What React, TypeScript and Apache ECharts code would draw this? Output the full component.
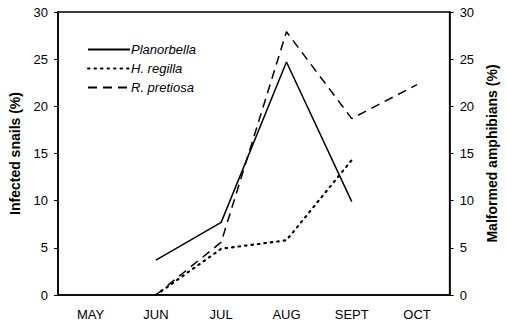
import React, { useEffect, useRef } from "react";
import * as echarts from "echarts";

const months = ["MAY", "JUN", "JUL", "AUG", "SEPT", "OCT"];
const planorbella = [null, 3.7, 7.7, 24.7, 9.9, null];
const hRegilla = [null, 0, 4.9, 5.8, 14.3, null];
const rPretiosa = [null, 0, 5.6, 27.9, 18.7, 22.3];

const FONT = "Liberation Sans, Arial, sans-serif";

export default function App() {
  const ref = useRef<HTMLDivElement>(null);
  useEffect(() => {
    const chart = echarts.init(ref.current!, null, { renderer: "svg" });
    const axisLabel = { color: "#000", fontSize: 13, fontFamily: FONT };
    chart.setOption({
      animation: false,
      backgroundColor: "#fff",
      grid: {
        left: 54,
        right: 45,
        top: 12,
        bottom: 31,
        show: true,
        borderColor: "#000",
        borderWidth: 1.5,
        backgroundColor: "transparent",
      },
      legend: {
        orient: "vertical",
        left: 87,
        top: 43,
        padding: 0,
        itemWidth: 42,
        itemHeight: 10,
        itemGap: 6,
        itemStyle: { opacity: 0 },
        textStyle: {
          color: "#000",
          fontSize: 13,
          fontStyle: "italic",
          fontFamily: FONT,
          padding: [0, 0, 0, -4],
        },
        data: ["Planorbella", "H. regilla", "R. pretiosa"],
      },
      xAxis: {
        type: "category",
        data: months,
        boundaryGap: true,
        axisLine: { lineStyle: { color: "#000", width: 1.5 } },
        axisTick: { inside: true, length: 4, lineStyle: { color: "#000", width: 1 } },
        axisLabel: { ...axisLabel, margin: 13 },
        splitLine: { show: false },
      },
      yAxis: [
        {
          type: "value",
          min: 0,
          max: 30,
          interval: 5,
          position: "left",
          name: "Infected snails (%)",
          nameLocation: "middle",
          nameGap: 36,
          nameTextStyle: { color: "#000", fontSize: 14, fontWeight: "bold", fontFamily: FONT },
          axisLine: { show: true, lineStyle: { color: "#000", width: 1.5 } },
          axisTick: { show: true, length: 4, lineStyle: { color: "#000" } },
          axisLabel: { ...axisLabel, margin: 10 },
          splitLine: { show: false },
        },
        {
          type: "value",
          min: 0,
          max: 30,
          interval: 5,
          position: "right",
          name: "Malformed amphibians (%)",
          nameLocation: "middle",
          nameRotate: 90,
          nameGap: 33,
          nameTextStyle: { color: "#000", fontSize: 14, fontWeight: "bold", fontFamily: FONT },
          axisLine: { show: true, lineStyle: { color: "#000", width: 1.5 } },
          axisTick: { show: true, length: 4, lineStyle: { color: "#000" } },
          axisLabel: { ...axisLabel, margin: 10 },
          splitLine: { show: false },
        },
      ],
      series: [
        {
          name: "Planorbella",
          type: "line",
          yAxisIndex: 0,
          data: planorbella,
          showSymbol: false,
          symbol: "none",
          color: "#000",
          lineStyle: { color: "#000", width: 1.5, type: "solid" },
        },
        {
          name: "H. regilla",
          type: "line",
          yAxisIndex: 1,
          data: hRegilla,
          showSymbol: false,
          symbol: "none",
          color: "#000",
          lineStyle: { color: "#000", width: 2.2, type: [1.5, 5], cap: "round" },
        },
        {
          name: "R. pretiosa",
          type: "line",
          yAxisIndex: 1,
          data: rPretiosa,
          showSymbol: false,
          symbol: "none",
          color: "#000",
          lineStyle: { color: "#000", width: 1.5, type: [9, 6] },
        },
      ],
    });
    return () => chart.dispose();
  }, []);
  return <div ref={ref} style={{ width: 507, height: 326, position: "absolute", left: 0, top: 0 }} />;
}
